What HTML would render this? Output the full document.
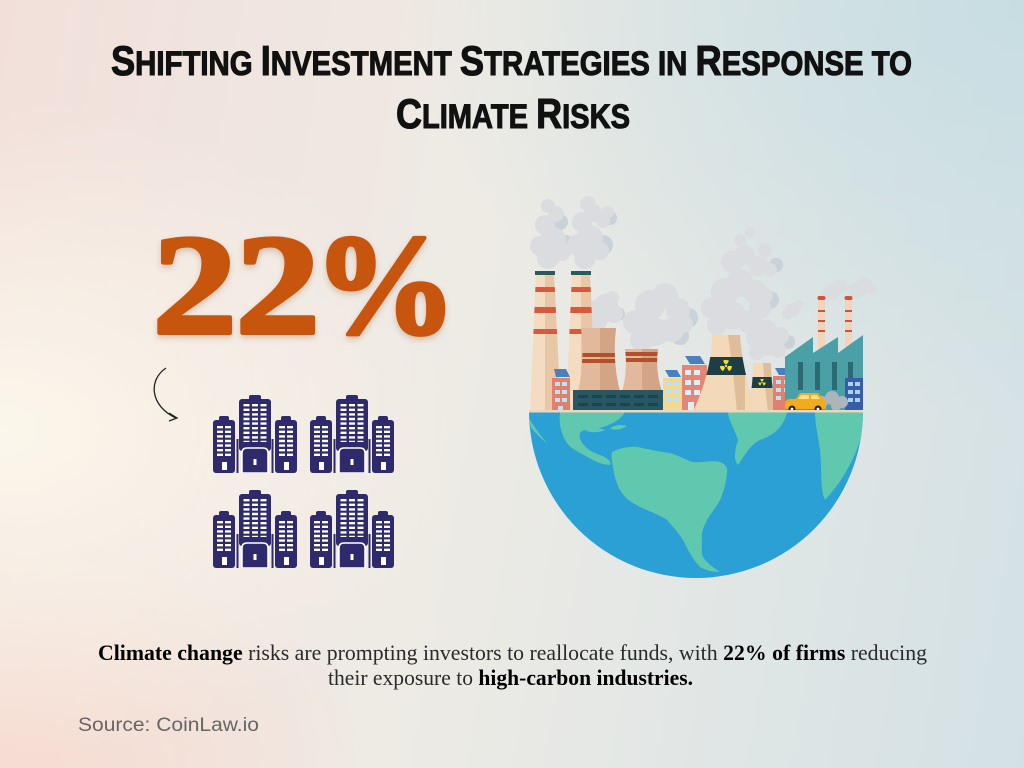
<!DOCTYPE html>
<html><head><meta charset="utf-8"><style>
html,body{margin:0;padding:0;width:1024px;height:768px;overflow:hidden}
body{position:relative;background:
 radial-gradient(ellipse 460px 330px at 0px 430px, rgba(252,248,236,0.95), rgba(252,248,236,0) 100%),
 radial-gradient(ellipse 380px 220px at 0px 768px, rgba(248,218,206,0.8), rgba(248,218,206,0) 100%),
 radial-gradient(ellipse 620px 420px at 1024px 0px, rgba(196,220,226,0.85), rgba(196,220,226,0)),
 linear-gradient(100deg,#f2dfda 0%,#eeebe5 45%,#d3e1e5 100%);}
svg{position:absolute;left:0;top:0}
</style></head><body>
<svg width="1024" height="768" viewBox="0 0 1024 768" xmlns="http://www.w3.org/2000/svg">
<defs>
 <filter id="sh" x="-10%" y="-10%" width="120%" height="130%"><feDropShadow dx="0" dy="3" stdDeviation="3" flood-color="#7a3a10" flood-opacity="0.25"/></filter>
 <symbol id="bld" viewBox="0 0 84 78">
  <g fill="#2f2a6b">
   <rect x="0" y="25" width="22" height="53" rx="3"/>
   <rect x="6" y="21" width="10" height="6" rx="2"/>
   <rect x="62" y="25" width="22" height="53" rx="3"/>
   <rect x="68" y="21" width="10" height="6" rx="2"/>
   <rect x="26" y="4" width="32" height="52" rx="3"/>
   <rect x="36" y="0" width="12" height="6" rx="2"/>
   <rect x="23.5" y="44" width="2" height="34"/>
   <rect x="58.5" y="44" width="2" height="34"/>
   <path d="M29,78 V58 Q29,53 34,53 H50 Q55,53 55,58 V78 Z" stroke="#fff" stroke-width="1.5"/>
  </g>
  <g stroke="#fff" stroke-width="6" stroke-dasharray="2.4 2.2" fill="none">
   <line x1="7" y1="31" x2="7" y2="63"/>
   <line x1="15" y1="31" x2="15" y2="63"/>
   <line x1="69" y1="31" x2="69" y2="63"/>
   <line x1="77" y1="31" x2="77" y2="63"/>
   <line x1="33.5" y1="9" x2="33.5" y2="47"/>
   <line x1="42" y1="9" x2="42" y2="47"/>
   <line x1="50.5" y1="9" x2="50.5" y2="47"/>
  </g>
  <rect x="9" y="67" width="5" height="8" fill="#fff"/>
  <rect x="71" y="67" width="5" height="8" fill="#fff"/>
  <rect x="40.5" y="64" width="3" height="6" fill="#fff"/>
 </symbol>
 <clipPath id="ch1"><polygon points="536,273 554,273 561,412 530,412"/></clipPath>
 <clipPath id="ch2"><polygon points="572,273 590,273 596,412 566,412"/></clipPath>
 <clipPath id="ct1"><path d="M581,328 H616 Q612,360 620,392 H578 Q585,360 581,328 Z"/></clipPath>
 <clipPath id="ct2"><path d="M625,349 H658 Q655,370 662,392 H622 Q628,370 625,349 Z"/></clipPath>
 <clipPath id="nk1"><path d="M712,335 H740 Q742,370 757,412 H693 Q712,370 712,335 Z"/></clipPath>
 <clipPath id="nk2"><path d="M753,363 H771 Q771,390 778,412 H747 Q753,390 753,363 Z"/></clipPath>
 <clipPath id="glb"><path d="M529,411 A167,167 0 0 0 863,411 Z"/></clipPath>
 <g id="rad" fill="#f2e02c">
  <path d="M725,364.3 L723,360.8 A6,6 0 0 1 729,360.8 L727,364.3 A2,2 0 0 0 725,364.3 Z"/>
  <path d="M728,366 L732,366 A6,6 0 0 1 729,371.2 L727,367.7 A2,2 0 0 0 728,366 Z"/>
  <path d="M725,367.7 L723,371.2 A6,6 0 0 1 720,366 L724,366 A2,2 0 0 0 725,367.7 Z"/>
  <circle cx="726" cy="366" r="1.2"/>
 </g>
</defs>

<!-- Title -->
<text x="111" y="75" font-family="Liberation Sans, sans-serif" font-weight="bold" fill="#111" stroke="#111" stroke-width="1.1" textLength="801" lengthAdjust="spacingAndGlyphs"><tspan font-size="42">S</tspan><tspan font-size="34">HIFTING </tspan><tspan font-size="42">I</tspan><tspan font-size="34">NVESTMENT </tspan><tspan font-size="42">S</tspan><tspan font-size="34">TRATEGIES IN </tspan><tspan font-size="42">R</tspan><tspan font-size="34">ESPONSE TO</tspan></text>
<text x="396" y="128" font-family="Liberation Sans, sans-serif" font-weight="bold" fill="#111" stroke="#111" stroke-width="1.1" textLength="234" lengthAdjust="spacingAndGlyphs"><tspan font-size="42">C</tspan><tspan font-size="34">LIMATE </tspan><tspan font-size="42">R</tspan><tspan font-size="34">ISKS</tspan></text>

<!-- 22% -->
<g filter="url(#sh)" font-family="Liberation Serif, serif" font-weight="bold" font-size="143" fill="#c7550c" stroke="#c7550c" stroke-width="4" stroke-linejoin="round">
 <g transform="translate(152.6,333) scale(1.18,1)"><text x="0" y="0">2</text></g>
 <g transform="translate(235.6,333) scale(1.18,1)"><text x="0" y="0">2</text></g>
 <g transform="translate(313.6,333)"><text x="0" y="0">%</text></g>
</g>

<!-- arrow -->
<path d="M166,368 C148,380 150,406 176,418" stroke="#222" stroke-width="1.3" fill="none"/>
<path d="M169,413 L177,418 L169,421" stroke="#222" stroke-width="1.3" fill="none"/>

<!-- building icons -->
<use href="#bld" x="213" y="395" width="84" height="78"/>
<use href="#bld" x="310" y="395" width="84" height="78"/>
<use href="#bld" x="213" y="490" width="84" height="78"/>
<use href="#bld" x="310" y="490" width="84" height="78"/>

<!-- globe -->
<path d="M529,411 A167,167 0 0 0 863,411 Z" fill="#2aa0d4"/>
<g clip-path="url(#glb)" fill="#5fc8ae">
 <path d="M560,411 H625 C622,420 610,425 600,428 C590,430 585,428 580,433 C578,440 585,450 600,455 C608,458 612,462 610,465 C598,465 585,455 575,450 C565,445 558,430 560,411 Z"/>
 <path d="M529,418 C533,425 540,435 547,443 C542,440 535,432 531,428 Z"/>
 <path d="M585,430 C592,427 600,428 605,430 C598,433 590,433 585,430 Z"/>
 <path d="M610,428 C615,425 622,424 627,426 C620,430 614,431 610,428 Z"/>
 <path d="M728,411 H787 C785,425 775,435 760,440 C750,445 745,455 738,465 C733,460 735,450 738,440 C735,430 728,420 728,411 Z"/>
 <path d="M815,411 H863 V430 C858,450 848,475 825,500 C820,490 822,470 820,450 C818,435 815,425 815,411 Z"/>
 <path d="M612,452 C620,448 630,446 637,447 C648,449 660,452 670,453 C680,456 688,461 693,462 C703,463 712,460 720,462 C725,464 728,467 727,472 C726,485 723,493 720,500 C716,508 710,514 707,520 C703,528 701,534 702,540 C702,548 701,553 703,557 C707,563 714,568 720,572 C712,572 705,570 700,567 C693,560 688,550 683,540 C678,532 672,526 667,520 C658,514 648,511 640,507 C630,502 624,497 620,490 C616,482 614,475 613,467 C612,462 611,456 612,452 Z"/>
</g>

<!-- smoke back -->
<g fill="#c9d1d9">
 <circle cx="565" cy="245" r="10"/><circle cx="560" cy="222" r="8"/>
 <circle cx="603" cy="245" r="10"/><circle cx="610" cy="218" r="7"/>
 <circle cx="618" cy="314" r="7"/>
 <circle cx="688" cy="318" r="10"/><circle cx="680" cy="336" r="9"/>
 <circle cx="770" cy="300" r="9"/><circle cx="776" cy="265" r="7"/>
 <circle cx="788" cy="342" r="7"/>
</g>
<g fill="#dadcdf">
 <circle cx="548" cy="258" r="11"/><circle cx="540" cy="246" r="10"/><circle cx="553" cy="240" r="13"/><circle cx="545" cy="225" r="10"/><circle cx="556" cy="214" r="8"/><circle cx="548" cy="206" r="7"/><circle cx="562" cy="252" r="9"/>
 <circle cx="585" cy="258" r="11"/><circle cx="578" cy="245" r="11"/><circle cx="590" cy="238" r="13"/><circle cx="582" cy="222" r="10"/><circle cx="593" cy="213" r="9"/><circle cx="588" cy="204" r="8"/><circle cx="603" cy="221" r="7"/><circle cx="608" cy="212" r="6"/><circle cx="600" cy="251" r="9"/>
 <circle cx="598" cy="320" r="10"/><circle cx="606" cy="306" r="12"/><circle cx="614" cy="314" r="9"/><circle cx="596" cy="308" r="8"/><circle cx="612" cy="298" r="7"/>
 <circle cx="642" cy="340" r="12"/><circle cx="635" cy="322" r="12"/><circle cx="650" cy="305" r="15"/><circle cx="665" cy="296" r="13"/><circle cx="678" cy="310" r="12"/><circle cx="672" cy="330" r="12"/><circle cx="655" cy="332" r="14"/><circle cx="684" cy="324" r="9"/>
 <circle cx="717" cy="325" r="10"/><circle cx="712" cy="308" r="11"/><circle cx="725" cy="292" r="14"/><circle cx="740" cy="283" r="14"/><circle cx="755" cy="292" r="12"/><circle cx="760" cy="308" r="11"/><circle cx="750" cy="322" r="12"/><circle cx="733" cy="316" r="14"/><circle cx="765" cy="296" r="8"/>
 <circle cx="732" cy="262" r="11"/><circle cx="745" cy="255" r="10"/><circle cx="758" cy="266" r="10"/><circle cx="765" cy="250" r="7"/><circle cx="770" cy="270" r="7"/><circle cx="740" cy="240" r="6"/><circle cx="750" cy="232" r="5"/>
 <circle cx="757" cy="352" r="8"/><circle cx="755" cy="338" r="9"/><circle cx="767" cy="330" r="10"/><circle cx="780" cy="336" r="9"/><circle cx="778" cy="350" r="8"/><circle cx="768" cy="346" r="10"/>
 <circle cx="792" cy="310" r="7"/><circle cx="798" cy="305" r="5"/><circle cx="787" cy="314" r="5"/>
 <circle cx="832" cy="292" r="8"/><circle cx="840" cy="287" r="7"/><circle cx="826" cy="295" r="5"/><circle cx="857" cy="290" r="8"/><circle cx="865" cy="285" r="8"/><circle cx="872" cy="290" r="5"/>
</g>

<!-- chimneys -->
<polygon points="536,273 554,273 561,412 530,412" fill="#f4dcc3"/>
<polygon points="545,273 554,273 561,412 545,412" fill="#e8c7a7"/>
<g clip-path="url(#ch1)" fill="#d65a3e"><rect x="528" y="287" width="40" height="5"/><rect x="528" y="307" width="40" height="6"/><rect x="528" y="329" width="40" height="5"/></g>
<rect x="535" y="271" width="20" height="4" fill="#2b5a5e"/>
<polygon points="572,273 590,273 596,412 566,412" fill="#f4dcc3"/>
<polygon points="581,273 590,273 596,412 581,412" fill="#e8c7a7"/>
<g clip-path="url(#ch2)" fill="#d65a3e"><rect x="560" y="287" width="40" height="5"/><rect x="560" y="307" width="40" height="6"/><rect x="560" y="329" width="40" height="5"/></g>
<rect x="571" y="271" width="20" height="4" fill="#2b5a5e"/>

<!-- cooling towers -->
<path d="M581,328 H616 Q612,360 620,392 H578 Q585,360 581,328 Z" fill="#e3b99d"/>
<g clip-path="url(#ct1)"><rect x="600" y="320" width="30" height="80" fill="#d4a487"/><rect x="570" y="353" width="60" height="4" fill="#b34f2a"/><rect x="570" y="359" width="60" height="4" fill="#b34f2a"/></g>
<path d="M625,349 H658 Q655,370 662,392 H622 Q628,370 625,349 Z" fill="#e3b99d"/>
<g clip-path="url(#ct2)"><rect x="642" y="340" width="30" height="60" fill="#d4a487"/><rect x="615" y="352" width="60" height="4" fill="#b34f2a"/><rect x="615" y="358" width="60" height="4" fill="#b34f2a"/></g>

<!-- dark block -->
<rect x="573" y="390" width="94" height="22" fill="#285763"/>
<g fill="#1c4450"><rect x="578" y="395" width="10" height="3"/><rect x="592" y="395" width="10" height="3"/><rect x="606" y="395" width="10" height="3"/><rect x="620" y="395" width="10" height="3"/><rect x="634" y="395" width="10" height="3"/><rect x="648" y="395" width="10" height="3"/>
<rect x="578" y="403" width="10" height="3"/><rect x="592" y="403" width="10" height="3"/><rect x="606" y="403" width="10" height="3"/><rect x="620" y="403" width="10" height="3"/><rect x="634" y="403" width="10" height="3"/><rect x="648" y="403" width="10" height="3"/></g>

<!-- small buildings -->
<polygon points="554,369 566,369 570,377 556,377" fill="#4a7fc0"/>
<rect x="552" y="378" width="18" height="34" fill="#e2806f"/>
<g fill="#bfe3ee"><rect x="555" y="382" width="5" height="4"/><rect x="562" y="382" width="5" height="4"/><rect x="555" y="390" width="5" height="4"/><rect x="562" y="390" width="5" height="4"/><rect x="555" y="398" width="5" height="4"/><rect x="562" y="398" width="5" height="4"/><rect x="558" y="406" width="5" height="6"/></g>
<polygon points="665,370 677,370 681,377 669,377" fill="#4a7fc0"/>
<rect x="663" y="378" width="19" height="34" fill="#f3d894"/>
<g fill="#bfe3ee"><rect x="666" y="382" width="5" height="4"/><rect x="674" y="382" width="5" height="4"/><rect x="666" y="390" width="5" height="4"/><rect x="674" y="390" width="5" height="4"/><rect x="666" y="398" width="5" height="4"/><rect x="674" y="398" width="5" height="4"/></g>
<polygon points="685,356 700,356 705,364 690,364" fill="#4a7fc0"/>
<rect x="682" y="365" width="25" height="47" fill="#e38677"/>
<g fill="#dff0f5"><rect x="685" y="370" width="6" height="5"/><rect x="694" y="370" width="6" height="5"/><rect x="685" y="380" width="6" height="5"/><rect x="694" y="380" width="6" height="5"/><rect x="685" y="390" width="6" height="5"/><rect x="694" y="390" width="6" height="5"/><rect x="688" y="402" width="6" height="10"/></g>

<!-- nuclear towers -->
<path d="M712,335 H740 Q742,370 757,412 H693 Q712,370 712,335 Z" fill="#f3d8ba"/>
<g clip-path="url(#nk1)"><path d="M728,335 H745 V412 H737 Q733,370 728,335 Z" fill="#dfbd98"/><rect x="690" y="357" width="70" height="18" fill="#1d3e45"/></g>
<use href="#rad"/>
<path d="M753,363 H771 Q771,390 778,412 H747 Q753,390 753,363 Z" fill="#f3d8ba"/>
<g clip-path="url(#nk2)"><path d="M763,363 H780 V412 H768 Q765,390 763,363 Z" fill="#dfbd98"/><rect x="745" y="377" width="40" height="11" fill="#1d3e45"/></g>
<g transform="translate(762,382.5) scale(0.6) translate(-726,-366)"><use href="#rad"/></g>

<polygon points="775,368 787,368 791,375 779,375" fill="#4a7fc0"/>
<rect x="773" y="376" width="19" height="36" fill="#e2806f"/>
<g fill="#bfe3ee"><rect x="776" y="380" width="5" height="4"/><rect x="784" y="380" width="5" height="4"/><rect x="776" y="388" width="5" height="4"/><rect x="784" y="388" width="5" height="4"/><rect x="776" y="396" width="5" height="4"/></g>

<!-- thin chimneys -->
<g><rect x="818" y="298" width="7" height="52" fill="#f2d3bb"/><rect x="845" y="298" width="7" height="52" fill="#f2d3bb"/>
<g fill="#d0533b"><rect x="817.5" y="296" width="8" height="4" rx="2"/><rect x="844.5" y="296" width="8" height="4" rx="2"/><rect x="818" y="310" width="7" height="2"/><rect x="818" y="320" width="7" height="2"/><rect x="818" y="330" width="7" height="2"/><rect x="845" y="310" width="7" height="2"/><rect x="845" y="320" width="7" height="2"/><rect x="845" y="330" width="7" height="2"/></g></g>

<!-- teal factory -->
<polygon points="785,357 813,337 813,353 838,337 838,353 863,335 863,412 785,412" fill="#4b9fa6"/>
<g fill="#2c6a73"><rect x="798" y="362" width="5" height="28"/><rect x="815" y="362" width="5" height="28"/><rect x="832" y="362" width="5" height="28"/><rect x="848" y="362" width="5" height="28"/></g>
<rect x="845" y="378" width="18" height="34" fill="#3a5ca8"/>
<g fill="#a9d2ee"><rect x="848" y="382" width="5" height="4"/><rect x="855" y="382" width="5" height="4"/><rect x="848" y="390" width="5" height="4"/><rect x="855" y="390" width="5" height="4"/><rect x="848" y="398" width="5" height="4"/><rect x="855" y="398" width="5" height="4"/></g>

<!-- car smoke + car -->
<g fill="#aeb5ba"><circle cx="822" cy="402" r="6"/><circle cx="832" cy="398" r="7"/><circle cx="842" cy="402" r="6"/><circle cx="836" cy="406" r="5"/></g>
<path d="M785,404 Q785,399 790,399 L796,399 L800,393 H818 L823,399 Q826,400 826,404 V409 H785 Z" fill="#f2aa1e"/>
<path d="M801,395 H809 V399 H798 Z M811,395 H817 L820,399 H811 Z" fill="#ffe08a"/>
<circle cx="792" cy="409" r="3.5" fill="#222"/><circle cx="792" cy="409" r="1.4" fill="#fff"/>
<circle cx="818" cy="409" r="3.5" fill="#222"/><circle cx="818" cy="409" r="1.4" fill="#fff"/>

<!-- ground strip -->
<rect x="529" y="410" width="334" height="2.5" fill="#e9d8bf"/>

<!-- body text -->
<text x="98" y="660" font-family="Liberation Serif, serif" font-size="22" fill="#2a2a2a" textLength="829" lengthAdjust="spacingAndGlyphs"><tspan font-weight="bold" fill="#000">Climate change</tspan> risks are prompting investors to reallocate funds, with <tspan font-weight="bold" fill="#000">22% of firms</tspan> reducing</text>
<text x="328" y="685" font-family="Liberation Serif, serif" font-size="22" fill="#2a2a2a" textLength="365" lengthAdjust="spacingAndGlyphs">their exposure to <tspan font-weight="bold" fill="#000">high-carbon industries.</tspan></text>

<text x="78" y="731" font-family="Liberation Sans, sans-serif" font-size="19" fill="#666" textLength="181" lengthAdjust="spacingAndGlyphs">Source: CoinLaw.io</text>
</svg>
</body></html>
